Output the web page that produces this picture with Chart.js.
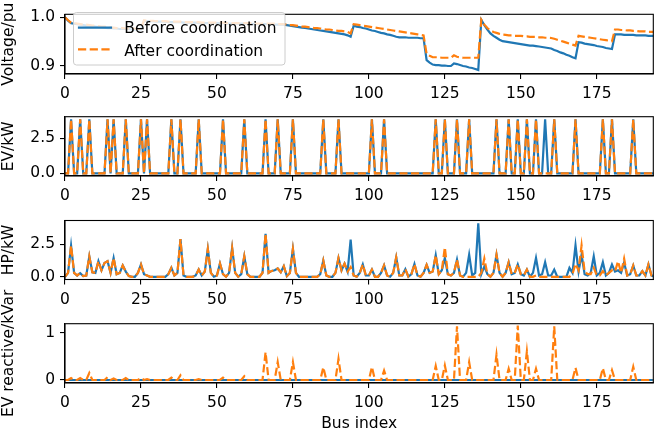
<!DOCTYPE html>
<html><head><meta charset="utf-8">
<script src="https://cdn.jsdelivr.net/npm/chart.js@4/dist/chart.umd.min.js"></script>
<style>
html,body{margin:0;padding:0;background:#fff;}
#wrap{position:relative;width:654px;height:436px;overflow:hidden;background:#fff;}
#wrap canvas{position:absolute;left:0;top:0;}
#leg{position:absolute;left:0;top:0;pointer-events:none;}
</style></head><body>
<div id="wrap">
<canvas id="c1" width="654" height="436"></canvas>
<canvas id="c2" width="654" height="436"></canvas>
<canvas id="c3" width="654" height="436"></canvas>
<canvas id="c4" width="654" height="436"></canvas>
<svg id="leg" width="654" height="436" xmlns="http://www.w3.org/2000/svg">
<rect x="73.5" y="12.5" width="211.5" height="52.5" rx="3" ry="3" fill="#ffffff" fill-opacity="0.8" stroke="#cccccc" stroke-width="1"/>
<line x1="79" y1="27.7" x2="111" y2="27.7" stroke="#1f77b4" stroke-width="2.2" stroke-linecap="square"/>
<text id="legT1" x="124.3" y="33.3" font-family="DejaVu Sans" font-size="15.5" fill="#000"></text>
<line x1="78" y1="49.3" x2="112" y2="49.3" stroke="#ff7f0e" stroke-width="2.2" stroke-dasharray="8.2 3.5"/>
<text id="legT2" x="124.3" y="55.7" font-family="DejaVu Sans" font-size="15.5" fill="#000"></text>
</svg>
</div>
<script>
const seriesNames = ['Before coordination', 'After coordination'];
const xTickValues = [0, 25, 50, 75, 100, 125, 150, 175];
const xTitle = 'Bus index';
const yTitles = ['Voltage/pu', 'EV/kW', 'HP/kW', 'EV reactive/kVar'];
const voltTicks = [0.9, 1.0], voltTickLabels = ['0.9', '1.0'];
const evTicks = [0, 2.5], evTickLabels = ['0.0', '2.5'];
const hpTicks = [0, 2.5], hpTickLabels = ['0.0', '2.5'];
const qTicks = [0, 1], qTickLabels = ['0', '1'];

const voltBefore = [
1.000,0.993,0.988,0.987,0.986,0.985,0.984,0.983,0.983,0.982,
0.981,0.980,0.980,0.979,0.978,0.978,0.977,0.977,0.976,0.976,
0.976,0.976,0.975,0.975,0.975,0.975,0.993,0.992,0.992,0.992,
0.991,0.991,0.991,0.991,0.990,0.990,0.990,0.990,0.990,0.989,
0.989,0.989,0.989,0.989,0.988,0.988,0.988,0.988,0.988,0.988,
0.988,0.988,0.988,0.987,0.987,0.987,0.987,0.987,0.987,0.987,
0.987,0.987,0.986,0.986,0.986,0.986,0.986,0.986,0.986,0.985,
0.985,0.985,0.985,0.984,0.983,0.982,0.981,0.980,0.979,0.978,
0.977,0.976,0.975,0.974,0.973,0.972,0.971,0.970,0.969,0.968,
0.967,0.966,0.965,0.963,0.960,0.983,0.981,0.980,0.978,0.977,
0.975,0.973,0.972,0.970,0.968,0.967,0.965,0.964,0.962,0.960,
0.959,0.959,0.959,0.958,0.958,0.958,0.958,0.957,0.957,0.912,
0.907,0.903,0.902,0.902,0.901,0.901,0.900,0.900,0.9055,0.904,
0.902,0.900,0.899,0.897,0.896,0.894,0.892,0.9945,0.984,0.975,
0.967,0.962,0.958,0.954,0.951,0.950,0.949,0.948,0.947,0.946,
0.945,0.944,0.943,0.942,0.942,0.941,0.940,0.939,0.938,0.937,
0.936,0.933,0.931,0.928,0.926,0.923,0.921,0.918,0.916,0.949,
0.948,0.946,0.945,0.944,0.943,0.941,0.940,0.939,0.937,0.936,
0.935,0.965,0.965,0.965,0.964,0.964,0.964,0.964,0.963,0.963,
0.963,0.963,0.962,0.962,0.962];
const voltAfter = [
1.000,0.994,0.989,0.988,0.987,0.986,0.985,0.985,0.984,0.983,
0.983,0.982,0.981,0.981,0.980,0.979,0.979,0.978,0.978,0.978,
0.977,0.977,0.977,0.977,0.976,0.976,0.994,0.993,0.993,0.993,
0.992,0.992,0.992,0.992,0.991,0.991,0.991,0.991,0.991,0.990,
0.990,0.990,0.990,0.990,0.990,0.989,0.989,0.989,0.989,0.989,
0.989,0.989,0.989,0.988,0.988,0.988,0.988,0.988,0.988,0.988,
0.988,0.988,0.988,0.987,0.987,0.987,0.987,0.987,0.987,0.987,
0.986,0.986,0.986,0.985,0.984,0.984,0.983,0.982,0.981,0.981,
0.980,0.979,0.978,0.978,0.977,0.976,0.975,0.975,0.974,0.973,
0.972,0.972,0.971,0.970,0.967,0.986,0.985,0.984,0.983,0.982,
0.981,0.980,0.979,0.978,0.977,0.976,0.975,0.974,0.973,0.972,
0.971,0.970,0.969,0.968,0.967,0.966,0.965,0.964,0.963,0.925,
0.921,0.918,0.918,0.918,0.917,0.917,0.917,0.917,0.922,0.919,
0.918,0.917,0.917,0.917,0.917,0.917,0.917,0.995,0.985,0.978,
0.973,0.970,0.968,0.966,0.9645,0.964,0.963,0.963,0.962,0.962,
0.962,0.961,0.961,0.960,0.960,0.960,0.959,0.959,0.958,0.958,
0.9575,0.956,0.954,0.952,0.950,0.948,0.946,0.944,0.942,0.962,
0.961,0.960,0.959,0.958,0.957,0.956,0.955,0.954,0.953,0.952,
0.951,0.975,0.975,0.974,0.974,0.973,0.973,0.972,0.972,0.971,
0.971,0.971,0.970,0.970,0.970];

const evBefore = [
0,0,3.85,0,0,3.85,0,0,3.85,0,
0,0,0,0,3.85,0,3.85,0,0,0,
3.85,0,0,0,0,3.85,0,3.85,0,0,
0,0,0,0,0,3.85,0,0,3.85,0,
0,0,0,0,3.85,0,0,0,0,0,
0,0,3.85,0,0,0,0,0,0,3.85,
0,0,0,0,0,0,3.85,0,0,0,
3.85,0,0,0,0,3.85,0,0,0,0,
0,0,0,0,0,3.85,0,0,0,0,
3.85,0,0,0,0,0,0,0,0,0,
0,3.85,0,0,0,3.85,0,0,0,0,
0,0,0,0,0,0,0,0,0,0,
0,0,3.85,0,0,3.85,0,0,0,3.85,
0,0,0,3.85,0,0,0,0,0,0,
0,0,3.85,0,0,0,3.85,0,0,3.85,
0,0,3.85,0,0,3.85,0,0,3.85,0,
0,3.85,0,0,0,0,0,0,3.85,0,
0,0,0,0,0,0,0,3.85,0,0,
3.85,0,0,0,0,0,0,3.85,0,0,
0,0,0,0,0];
const evAfter = [
0,0,3.85,0,0,3.85,0,0,3.85,0,
0,0,0,0,3.85,0,3.85,0,0,0,
3.85,0,0,0,0,3.85,0,3.85,0,0,
0,0,0,0,0,3.85,0,0,3.85,0,
0,0,0,0,3.85,0,0,0,0,0,
0,0,3.85,0,0,0,0,0,0,3.85,
0,0,0,0,0,0,3.85,0,0,0,
3.85,0,0,0,0,3.85,0,0,0,0,
0,0,0,0,0,3.85,0,0,0,0,
3.85,0,0,0,0,0,0,0,0,0,
0,3.85,0,0,0,3.85,0,0,0,0,
0,0,0,0,0,0,0,0,0,0,
0,0,3.85,0,0,3.85,0,0,0,3.85,
0,0,0,3.85,0,0,0,0,0,0,
0,0,3.85,0,0,0,3.85,0,0,3.85,
0,0,3.85,0,0,3.85,0,0,0,0,
0,3.85,0,0,0,0,0,0,3.85,0,
0,0,0,0,0,0,0,3.85,0,0,
3.85,0,0,0,0,0,0,3.85,0,0,
0,0,0,0,0];

const hpBefore = [
0,0.3,2.4,0.3,0.1,0.28,0.05,0.1,1.58,0.35,
0.3,1.2,0.5,1.07,1.2,0.3,1.45,0.2,0.3,0.87,
0.4,0.05,0,0,0.3,0.95,0.2,0.1,0,0,
0,0,0,0,0.2,0.69,0.1,0.3,2.9,0.1,
0,0,0,0.1,0.56,0.1,0.4,2.14,0.3,0,
0.1,1.02,0.2,0,0.3,2.22,0.3,0,0.2,1.58,
0.2,0,0,0,0,0.3,3.31,0.3,0.45,0.5,
0.64,0.35,0.82,0.05,0.3,2.14,0.3,0,0,0,
0,0,0,0,0.2,1.25,0.1,0,0,0.3,
1.45,0.5,1.02,0.4,2.86,0.1,0,0.3,0.95,0.1,
0.1,0.56,0,0,0.3,0.88,0.1,0,0.3,1.5,
0.1,0.1,0.58,0,0.2,0.98,0.1,0,0.3,0.92,
0.3,0.4,1.66,0.2,0.5,1.45,0.2,0.1,0.3,1.33,
0.1,0,0.3,1.71,0.1,0.3,4.13,0.2,0.8,0.2,
0,0.3,1.71,0.3,0,0.3,1.12,0.2,0.3,0.95,
0.2,0.1,0.56,0,0.3,1.45,0.1,0.2,1.12,0.1,
0.1,0.56,0,0,0,0,0.69,0.3,2.42,0.4,
1.7,0.2,0.1,0.3,1.58,0.1,0.3,1.12,0.1,0.3,
0.95,0.4,0.5,0.3,1.1,0.1,0.2,0.87,0.1,0.1,
0.43,0.1,0.95,0.1,0];
const hpAfter = [
0,0.3,2.4,0.3,0.1,0.28,0.05,0.1,1.58,0.35,
0.3,1.2,0.5,1.07,1.2,0.3,1.45,0.2,0.3,0.87,
0.4,0.05,0,0,0.3,0.95,0.2,0.1,0,0,
0,0,0,0,0.2,0.69,0.1,0.3,2.9,0.1,
0,0,0,0.1,0.56,0.1,0.4,2.14,0.3,0,
0.1,1.02,0.2,0,0.3,2.22,0.3,0,0.2,1.58,
0.2,0,0,0,0,0.3,3.31,0.3,0.45,0.5,
0.64,0.35,0.82,0.05,0.3,2.14,0.3,0,0,0,
0,0,0,0,0.2,1.25,0.1,0,0,0.3,
1.45,0.5,1.02,0.4,0.75,0.1,0,0.3,0.95,0.1,
0.1,0.56,0,0,0.3,0.88,0.1,0,0.3,1.5,
0.1,0.1,0.58,0,0.2,0.98,0.1,0,0.3,0.92,
0.3,0.4,1.66,0.2,0.5,2.27,0.2,0.1,0.3,1.33,
0.1,0,0,0,0,0,0,0.3,1.4,0.2,
0,0.3,1.71,0.3,0,0.3,1.12,0.2,0.3,0.95,
0.2,0.1,0.56,0,0,0.1,0,0,0,0,
0,0,0,0,0,0,0,0.2,1.0,0.5,
2.42,0.4,0.2,0.2,0.7,0.1,0.1,0.43,0.1,0.3,
0.5,0.4,1.2,0.3,1.4,0.1,0.2,0.87,0.1,0.1,
0.43,0.1,0.95,0.1,0];

const qBefore = [
0,0,0,0,0,0,0,0,0,0, 0,0,0,0,0,0,0,0,0,0,
0,0,0,0,0,0,0,0,0,0, 0,0,0,0,0,0,0,0,0,0,
0,0,0,0,0,0,0,0,0,0, 0,0,0,0,0,0,0,0,0,0,
0,0,0,0,0,0,0,0,0,0, 0,0,0,0,0,0,0,0,0,0,
0,0,0,0,0,0,0,0,0,0, 0,0,0,0,0,0,0,0,0,0,
0,0,0,0,0,0,0,0,0,0, 0,0,0,0,0,0,0,0,0,0,
0,0,0,0,0,0,0,0,0,0, 0,0,0,0,0,0,0,0,0,0,
0,0,0,0,0,0,0,0,0,0, 0,0,0,0,0,0,0,0,0,0,
0,0,0,0,0,0,0,0,0,0, 0,0,0,0,0,0,0,0,0,0,
0,0,0,0,0,0,0,0,0,0, 0,0,0,0,0];
const qAfter = [
0,0,0.04,0,0,0.04,0,0,0.15,0,
0,0,0,0,0.06,0,0.03,0,0,0,
0.04,0,0,0,0,0.04,0,0.02,0,0,
0,0,0,0,0,0.05,0,0,0.1,0,
0,0,0,0,0.02,0,0,0,0,0,
0,0,0.05,0,0,0,0,0,0,0.08,
0,0,0,0,0,0,0.59,0,0,0,
0.38,0,0,0,0,0.38,0,0,0,0,
0,0,0,0,0,0.27,0,0,0,0,
0.45,0,0,0,0,0,0,0,0,0,
0,0.28,0,0,0,0.2,0,0,0,0,
0,0,0,0,0,0,0,0,0,0,
0,0,0.3,0,0,0.31,0,0,0,1.14,
0,0,0,0.38,0,0,0,0,0,0,
0,0,0.54,0,0,0,0.24,0,0,1.16,
0,0,0.61,0,0,0.24,0,0,0,0,
0,1.14,0,0,0,0,0,0,0.26,0,
0,0,0,0,0,0,0,0.25,0,0,
0.21,0,0,0,0,0,0,0.28,0,0,
0,0,0,0,0];

const busIndex = voltBefore.map((_, i) => i);

document.getElementById('legT1').textContent = seriesNames[0];
document.getElementById('legT2').textContent = seriesNames[1];

const BLUE = '#1f77b4', ORANGE = '#ff7f0e';
const FONT = { family: 'DejaVu Sans', size: 15.5, lineHeight: 1.2 };
Chart.defaults.font.family = 'DejaVu Sans';
Chart.defaults.color = '#000';

const framePlugin = {
  id: 'frame',
  afterDatasetsDraw(chart) {
    const a = chart.chartArea, c = chart.ctx;
    c.save();
    c.strokeStyle = '#000'; c.lineWidth = 1.1;
    c.strokeRect(a.left, a.top, a.right - a.left, a.bottom - a.top);
    c.restore();
  }
};

function panel(id, p) {
  const xH = p.xTitle ? 52 : 32;
  return new Chart(document.getElementById(id), {
    type: 'line',
    data: {
      datasets: [
        { label: seriesNames[0], data: busIndex.map((x, i) => ({ x: x, y: p.before[i] })),
          borderColor: BLUE, borderWidth: 2.2, pointRadius: 0, tension: 0, fill: false, order: 2 },
        { label: seriesNames[1], data: busIndex.map((x, i) => ({ x: x, y: p.after[i] })),
          borderColor: ORANGE, borderWidth: 2.2, borderDash: [8.2, 3.5], pointRadius: 0, tension: 0, fill: false, order: 1 }
      ]
    },
    options: {
      responsive: false, animation: false, devicePixelRatio: 1,
      events: [],
      layout: { padding: { top: p.top, bottom: 436 - p.bottom - xH, left: 0, right: 0.7 } },
      plugins: { legend: { display: false }, tooltip: { enabled: false } },
      scales: {
        x: {
          type: 'linear', min: 0, max: 193.6,
          afterFit: s => { s.height = xH; },
          afterBuildTicks: s => { s.ticks = xTickValues.map(v => ({ value: v })); },
          ticks: { font: FONT, color: '#000', padding: 6, maxRotation: 0, autoSkip: false,
                   callback: v => String(v) },
          grid: { display: true, drawOnChartArea: false, drawTicks: true, tickLength: 5, color: '#000', lineWidth: 1.1 },
          border: { display: true, color: '#000', width: 1.1 },
          title: { display: !!p.xTitle, text: xTitle, font: FONT, color: '#000', padding: { top: 2, bottom: 2 } }
        },
        y: {
          type: 'linear', min: p.ymin, max: p.ymax,
          afterFit: s => { s.width = 65; },
          afterBuildTicks: s => { s.ticks = p.ticks.map(v => ({ value: v })); },
          ticks: { font: FONT, color: '#000', padding: 5,
                   callback: v => { const k = p.ticks.findIndex(t => Math.abs(t - v) < 1e-9); return k >= 0 ? p.labels[k] : ''; } },
          grid: { display: true, drawOnChartArea: false, drawTicks: true, tickLength: 5, color: '#000', lineWidth: 1.1 },
          border: { display: true, color: '#000', width: 1.1 },
          title: { display: true, text: p.title, font: FONT, color: '#000', padding: { top: 0, bottom: 0 } }
        }
      }
    },
    plugins: [framePlugin]
  });
}

panel('c1', { before: voltBefore, after: voltAfter, top: 14.3, bottom: 74, ymin: 0.8836, ymax: 1.0062,
  ticks: voltTicks, labels: voltTickLabels, title: yTitles[0] });
panel('c2', { before: evBefore, after: evAfter, top: 116.7, bottom: 176, ymin: -0.19, ymax: 4.04,
  ticks: evTicks, labels: evTickLabels, title: yTitles[1] });
panel('c3', { before: hpBefore, after: hpAfter, top: 220.5, bottom: 279.5, ymin: -0.21, ymax: 4.34,
  ticks: hpTicks, labels: hpTickLabels, title: yTitles[2] });
panel('c4', { before: qBefore, after: qAfter, top: 323.7, bottom: 383, ymin: -0.064, ymax: 1.198,
  ticks: qTicks, labels: qTickLabels, title: yTitles[3], xTitle: true });
</script>
</body></html>
